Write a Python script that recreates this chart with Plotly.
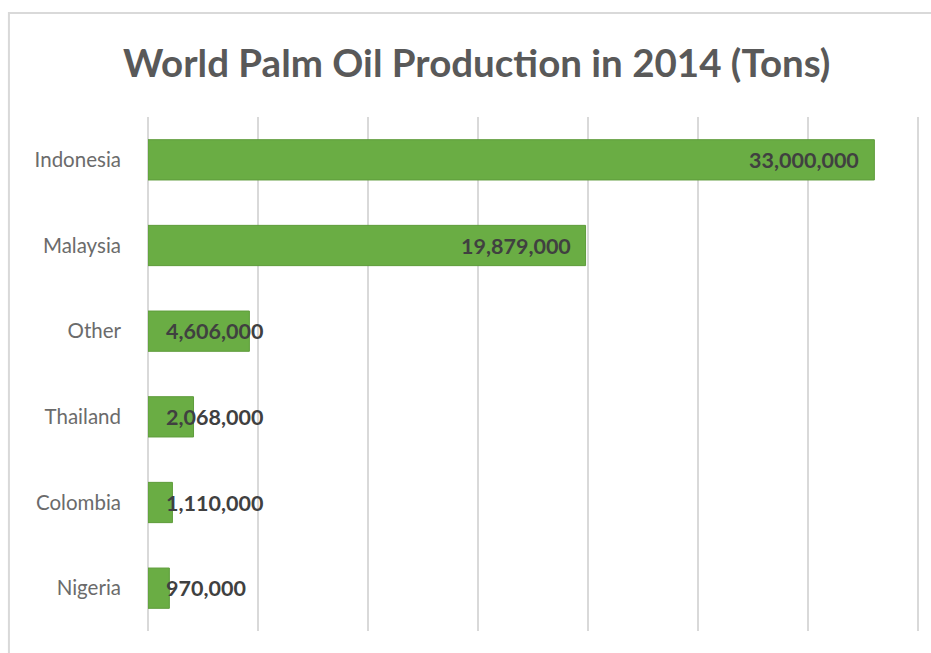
import plotly.graph_objects as go

countries = ["Indonesia", "Malaysia", "Other", "Thailand", "Colombia", "Nigeria"]
production = [33000000, 19879000, 4606000, 2068000, 1110000, 970000]
title_text = "World Palm Oil Production in 2014 (Tons)"

W, H = 931, 653
x_max = 35300000
ml, mt, mb = 148, 117, 22
pw = 770 * x_max / 35000000
mr = W - ml - pw
ph = H - mt - mb

fig = go.Figure()
fig.add_trace(go.Bar(
    y=countries, x=production, orientation="h",
    marker=dict(color="#6aad44", line=dict(color="#5e9c3b", width=1)),
    hoverinfo="skip",
))

annotations = []
for c, v in zip(countries, production):
    label = f"{v:,}"
    if v > 10000000:
        annotations.append(dict(x=v, y=c, xref="x", yref="y", text=f"<b>{label}</b>",
                                showarrow=False, xanchor="right", xshift=-13,
                                font=dict(family="Lato", size=21.5, color="#404040")))
    else:
        annotations.append(dict(x=0, y=c, xref="x", yref="y", text=f"<b>{label}</b>",
                                showarrow=False, xanchor="left", xshift=16,
                                font=dict(family="Lato", size=21.5, color="#404040")))

annotations.append(dict(x=(476.5 - ml) / pw, y=1 + (mt - 62) / ph, xref="paper", yref="paper",
                        text=f"<b>{title_text}</b>", showarrow=False,
                        xanchor="center", yanchor="middle",
                        font=dict(family="Lato", size=38.5, color="#595959")))

fig.update_layout(
    width=W, height=H,
    margin=dict(l=ml, r=mr, t=mt, b=mb, autoexpand=False),
    paper_bgcolor="white", plot_bgcolor="white",
    showlegend=False,
    bargap=0.53,
    annotations=annotations,
    xaxis=dict(range=[0, x_max], dtick=5000000, tick0=0, showticklabels=False,
               showgrid=True, gridcolor="#d9d9d9", gridwidth=2,
               zeroline=True, zerolinecolor="#d9d9d9", zerolinewidth=2,
               showline=False, ticks=""),
    yaxis=dict(autorange="reversed", showgrid=False, zeroline=False, ticks="",
               ticklabelstandoff=26,
               tickfont=dict(family="Lato", size=20.5, color="#6b6b6b")),
    shapes=[dict(type="rect", xref="paper", yref="paper",
                 x0=(9 - ml) / pw, x1=(945 - ml) / pw,
                 y0=-(665 - mt - ph) / ph,
                 y1=1 + (mt - 13) / ph,
                 line=dict(color="#d9d9d9", width=2), layer="below")],
)

fig.write_html("out.html")
